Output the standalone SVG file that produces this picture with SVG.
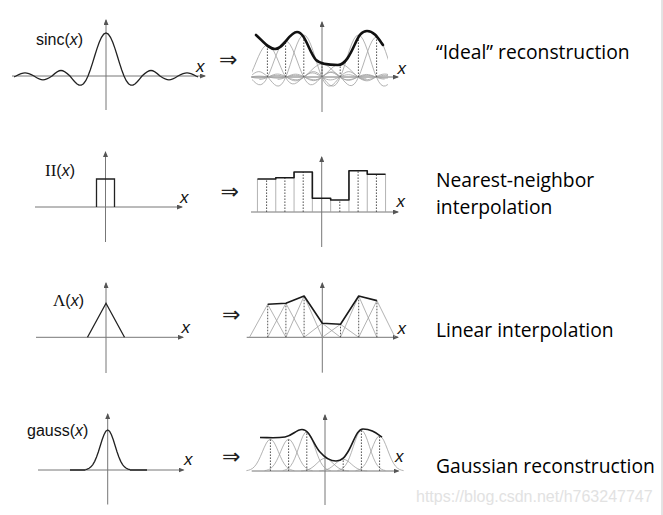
<svg xmlns="http://www.w3.org/2000/svg" xmlns:xlink="http://www.w3.org/1999/xlink" width="663" height="515" viewBox="0 0 663 515">
<style>
.ax{stroke:#777;stroke-width:1;fill:none}
.axh{marker-end:url(#arr)}
.g{fill:none;stroke:#a0a0a0;stroke-width:0.8}
.k{fill:none;stroke:#222;stroke-width:1.3}
.thick{fill:none;stroke:#111;stroke-width:2.6;stroke-linejoin:round;stroke-linecap:round}
.thin{fill:none;stroke:#1a1a1a;stroke-width:1.6;stroke-linejoin:round}
.dot{stroke:#555;stroke-width:1;stroke-dasharray:1.6,1.4;fill:none}
.ns{vector-effect:non-scaling-stroke}
.lab{font-family:"Open Sans","Liberation Sans",sans-serif;font-size:19.3px;fill:#000}
.fn{font-family:"Liberation Sans",Arial,sans-serif;font-size:16px;fill:#111}
.ser{font-family:"Liberation Serif","Times New Roman",serif;font-size:17px;fill:#111}
.xl{font-family:"Liberation Sans",Arial,sans-serif;font-style:italic;font-size:17px;fill:#111}
.imp{font-family:"DejaVu Sans",sans-serif;font-size:22px;fill:#222}
.wm{font-family:"Liberation Sans",Arial,sans-serif;font-size:16px;fill:#e2e2e2}
</style>
<defs>
<marker id="arr" markerWidth="6" markerHeight="5" refX="5" refY="2.5" orient="auto" markerUnits="userSpaceOnUse">
<path d="M0,0 L6,2.5 L0,5 z" fill="#555"/>
</marker>
<path id="sinc" class="ns" d="M-99,2.49 C-95.85,2.49 -93.15,1.37 -90,0 C-82.36,-4.07 -79.64,-4.07 -72,0 C-64.36,5.24 -61.64,5.24 -54,0 C-46.36,-7.36 -43.64,-7.36 -36,0 L-33.75,2.79 -31.5,5.53 -29.25,7.78 -27,9.12 -24.75,9.2 -22.5,7.74 -20.25,4.66 -18,0 -15.75,-5.99 -13.5,-12.9 -11.25,-20.23 -9,-27.37 -6.75,-33.72 -4.5,-38.71 -2.25,-41.9 0,-43 2.25,-41.9 4.5,-38.71 6.75,-33.72 9,-27.37 11.25,-20.23 13.5,-12.9 15.75,-5.99 18,0 20.25,4.66 22.5,7.74 24.75,9.2 27,9.12 29.25,7.78 31.5,5.53 33.75,2.79 36,0 C43.64,-7.36 46.36,-7.36 54,0 C61.64,5.24 64.36,5.24 72,0 C79.64,-4.07 82.36,-4.07 90,0 C93.15,1.37 95.85,2.49 99,2.49"/>
<path id="gauss" class="ns" d="M-24,-0.44 L-22,-0.91 -20,-1.76 -18,-3.18 -16,-5.41 -14,-8.65 -12,-12.99 -10,-18.31 -8,-24.26 -6,-30.19 -4,-35.3 -2,-38.77 0,-40 2,-38.77 4,-35.3 6,-30.19 8,-24.26 10,-18.31 12,-12.99 14,-8.65 16,-5.41 18,-3.18 20,-1.76 22,-0.91 24,-0.44"/>
<clipPath id="clipL1"><rect x="14" y="0" width="184" height="130"/></clipPath>
<clipPath id="clipM1"><rect x="252" y="0" width="136" height="130"/></clipPath>
</defs>
<rect x="0" y="0" width="663" height="515" fill="#fff"/>
<line x1="662" y1="0" x2="662" y2="515" stroke="#c8c8c8" stroke-width="1"/>

<!-- Row 1: sinc -->
<g id="sinc-kernel">
<line class="ax axh" x1="12" y1="76" x2="205" y2="76"/>
<line class="ax axh" x1="106" y1="110" x2="106" y2="20"/>
<g clip-path="url(#clipL1)"><use xlink:href="#sinc" href="#sinc" class="k" transform="translate(106,76)"/></g>
<text class="fn" x="36" y="45">sinc(<tspan font-style="italic">x</tspan>)</text>
<text class="xl" x="196" y="72">x</text>
</g>
<text class="imp" x="219" y="67">⇒</text>
<g id="sinc-reconstruction">
<line class="ax axh" x1="251" y1="77" x2="398" y2="77"/>
<line class="ax axh" x1="322" y1="112" x2="322" y2="22"/>
<g clip-path="url(#clipM1)">
<use xlink:href="#sinc" href="#sinc" class="g" transform="translate(267.4,77) scale(1,0.744)"/>
<use xlink:href="#sinc" href="#sinc" class="g" transform="translate(285.6,77) scale(1,0.837)"/>
<use xlink:href="#sinc" href="#sinc" class="g" transform="translate(303.8,77) scale(1,0.977)"/>
<use xlink:href="#sinc" href="#sinc" class="g" transform="translate(322,77) scale(1,0.302)"/>
<use xlink:href="#sinc" href="#sinc" class="g" transform="translate(340.2,77) scale(1,0.302)"/>
<use xlink:href="#sinc" href="#sinc" class="g" transform="translate(358.4,77) scale(1,0.977)"/>
<use xlink:href="#sinc" href="#sinc" class="g" transform="translate(376.6,77) scale(1,0.93)"/>
</g>
<path class="dot" d="M267.4,77V45 M285.6,77V41 M303.8,77V35 M322,77V64 M340.2,77V64 M358.4,77V35 M376.6,77V37"/>
<path class="thick" d="M256,35 C262,40 268,49 275,49 C284,49 289,32 297,32 C305,32 309,52 316,60 C321,65 332,65 338,65 C345,65 350,55 355,44 C359,35 362,31 367,31 C374,31 378,38 383,45"/>
<text class="xl" x="397.5" y="73.5">x</text>
</g>
<text class="lab" x="436" y="59">“Ideal” reconstruction</text>

<!-- Row 2: box -->
<g id="box-kernel">
<line class="ax axh" x1="35" y1="207" x2="182" y2="207"/>
<line class="ax axh" x1="105.5" y1="242" x2="105.5" y2="152"/>
<path class="k" d="M96.5,207 V179 H114.5 V207" stroke-width="1.1"/>
<text x="45" y="175.5"><tspan class="ser">II</tspan><tspan class="fn">(<tspan font-style="italic">x</tspan>)</tspan></text>
<text class="xl" x="180" y="203">x</text>
</g>
<text class="imp" x="220.5" y="198.5">⇒</text>
<g id="nearest-neighbor-reconstruction">
<line class="ax axh" x1="251" y1="212" x2="398" y2="212"/>
<line class="ax axh" x1="321.7" y1="247" x2="321.7" y2="157"/>
<path class="g" d="M257.45,212V179 M275.75,212V177.7 M294.05,212V172 M312.35,212V172 M330.65,212V198.3 M348.95,212V170.7 M367.25,212V170.7 M385.55,212V174.3"/>
<path class="dot" d="M266.6,212V179 M284.9,212V177.7 M303.2,212V172 M339.8,212V200 M358.1,212V170.7 M376.4,212V174.3"/>
<path class="thin" d="M257.45,179 H275.75 V177.7 H294.05 V172 H312.35 V198.3 H330.65 V200 H348.95 V170.7 H367.25 V174.3 H385.55"/>
<text class="xl" x="396.5" y="207">x</text>
</g>
<text class="lab" x="436" y="187">Nearest-neighbor</text>
<text class="lab" x="436" y="213.5">interpolation</text>

<!-- Row 3: tent -->
<g id="tent-kernel">
<line class="ax axh" x1="36" y1="337.3" x2="183" y2="337.3"/>
<line class="ax axh" x1="106" y1="373" x2="106" y2="283"/>
<path class="k" d="M87.5,337.3 L106,303.3 L124.5,337.3" stroke-width="1.1"/>
<text x="53" y="306"><tspan class="ser">Λ</tspan><tspan class="fn">(<tspan font-style="italic">x</tspan>)</tspan></text>
<text class="xl" x="181.5" y="333">x</text>
</g>
<text class="imp" x="222" y="322">⇒</text>
<g id="linear-reconstruction">
<line class="ax axh" x1="246.7" y1="337.3" x2="398" y2="337.3"/>
<line class="ax axh" x1="322.3" y1="372.7" x2="322.3" y2="283"/>
<path class="g" d="M249.5,337.3 L267.7,304.3 L285.9,337.3 M267.7,337.3 L285.9,303.3 L304.1,337.3 M285.9,337.3 L304.1,296 L322.3,337.3 M304.1,337.3 L322.3,323.3 L340.5,337.3 M322.3,337.3 L340.5,324.3 L358.7,337.3 M340.5,337.3 L358.7,296 L376.9,337.3 M358.7,337.3 L376.9,300.6 L395.1,337.3"/>
<path class="dot" d="M267.7,337.3V304.3 M285.9,337.3V303.3 M304.1,337.3V296 M340.5,337.3V324.3 M358.7,337.3V296 M376.9,337.3V300.6"/>
<polyline class="thin" points="267.7,304.3 285.9,303.3 304.1,296 322.3,323.3 340.5,324.3 358.7,296 376.9,300.6"/>
<text class="xl" x="397.5" y="333.5">x</text>
</g>
<text class="lab" x="436" y="337">Linear interpolation</text>

<!-- Row 4: gaussian -->
<g id="gauss-kernel">
<line class="ax axh" x1="38" y1="470" x2="183.5" y2="470"/>
<line class="ax axh" x1="107.7" y1="504.5" x2="107.7" y2="414"/>
<use xlink:href="#gauss" href="#gauss" class="k" transform="translate(107.7,470) scale(0.93,1)"/>
<path class="k" d="M70,470 H85.4 M130,470 H147" stroke-width="1"/>
<text class="fn" x="27" y="435.5">gauss(<tspan font-style="italic">x</tspan>)</text>
<text class="xl" x="184" y="465">x</text>
</g>
<text class="imp" x="222" y="463.5">⇒</text>
<g id="gaussian-reconstruction">
<line class="ax axh" x1="251.7" y1="471" x2="398.5" y2="471"/>
<line class="ax axh" x1="325" y1="505" x2="325" y2="415"/>
<use xlink:href="#gauss" href="#gauss" class="g" transform="translate(270.4,471) scale(1,0.7925)"/>
<use xlink:href="#gauss" href="#gauss" class="g" transform="translate(288.6,471) scale(1,0.7925)"/>
<use xlink:href="#gauss" href="#gauss" class="g" transform="translate(306.8,471) scale(1,0.9825)"/>
<use xlink:href="#gauss" href="#gauss" class="g" transform="translate(325,471) scale(1,0.3175)"/>
<use xlink:href="#gauss" href="#gauss" class="g" transform="translate(343.2,471) scale(1,0.2925)"/>
<use xlink:href="#gauss" href="#gauss" class="g" transform="translate(361.4,471) scale(1,1.0175)"/>
<use xlink:href="#gauss" href="#gauss" class="g" transform="translate(379.6,471) scale(1,0.875)"/>
<path class="dot" d="M270.4,471V439.3 M288.6,471V439.3 M306.8,471V431.7 M343.2,471V459.3 M361.4,471V430.3 M379.6,471V436"/>
<path class="thin" d="M260,437.5 C268,437.5 276,438.5 285,437 C293,435.5 296,429.5 302,429.5 C310,429.5 313,444 320,452 C326,459 331,461 336,461 C342,461 345,457 349,450 C354,441 357,429 363,429 C371,429 376,433 382,437"/>
<text class="xl" x="395" y="462">x</text>
</g>
<text class="lab" x="436" y="473">Gaussian reconstruction</text>
<text class="wm" x="416" y="501.5">https://blog.csdn.net/h763247747</text>
</svg>
